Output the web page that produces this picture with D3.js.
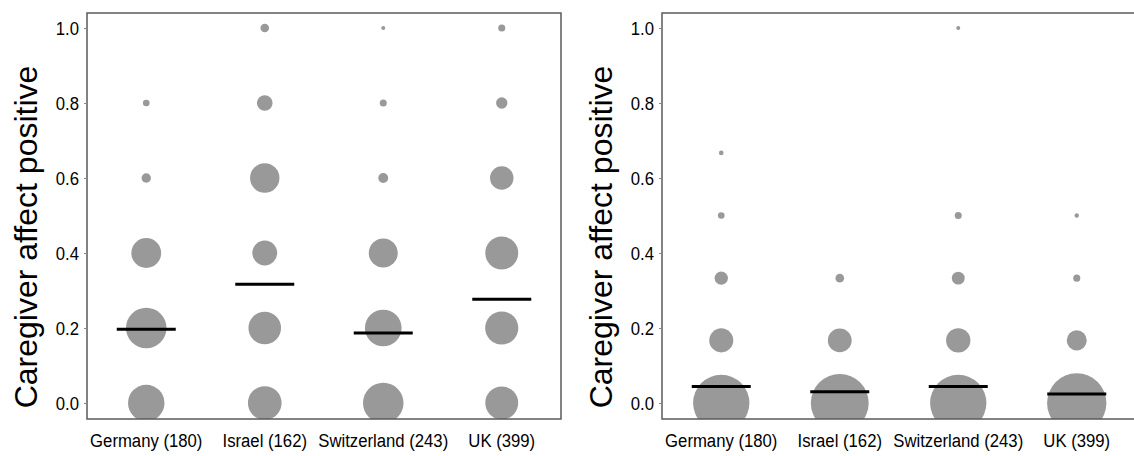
<!DOCTYPE html>
<html>
<head>
<meta charset="utf-8">
<script src="https://cdn.jsdelivr.net/npm/d3@7"></script>
<style>
  body { margin: 0; background: #fff; }
  text { font-family: "Liberation Sans", Arial, sans-serif; fill: #000; }
</style>
</head>
<body>
<div id="chart"></div>
<script>
// groups shown on both panels
const categories = ["Germany (180)", "Israel (162)", "Switzerland (243)", "UK (399)"]
const groupSizes = [180, 162, 243, 399]

// left panel: response levels and counts per level (one row per group)
const leftLevels = [0, 0.2, 0.4, 0.6, 0.8, 1.0]
const leftCounts = [
    [60, 74, 40, 4, 2, 0],
    [46, 43, 25, 35, 10, 3],
    [100, 82, 51, 6, 3, 1],
    [108, 110, 108, 55, 13, 5]
]
const leftMeans = [0.197, 0.317, 0.187, 0.277]

// right panel
const rightLevels = [0, 0.167, 0.333, 0.5, 0.667, 1.0]
const rightCounts = [
    [143, 26, 8, 2, 1, 0],
    [136, 23, 3, 0, 0, 0],
    [193, 36, 10, 3, 0, 1],
    [352, 40, 5, 2, 0, 0]
]
const rightMeans = [0.044, 0.030, 0.044, 0.024]

const yTicks = [0, 0.2, 0.4, 0.6, 0.8, 1.0]
const yTitle = "Caregiver affect positive"

// layout
const width = 1134,
    height = 456
const panelTop = 13,
    panelBottom = 419,
    panelWidth = 474
const panelLefts = [87, 662]
const squeeze = 0.88 // labels in the original are slightly condensed

const svg = d3.select("#chart")
    .append("svg")
    .attr("width", width)
    .attr("height", height)

svg.append("rect")
    .attr("width", width)
    .attr("height", height)
    .attr("fill", "#fff")

// same y scale for both panels
const y = d3.scaleLinear()
    .domain([0, 1])
    .range([403, 28])

// dot area is proportional to share of the group
const r = d3.scaleSqrt()
    .domain([0, 1])
    .range([0, 31.6])

function drawPanel(i, levels, counts, means) {
    const x0 = panelLefts[i]
    const x = d3.scalePoint()
        .domain(categories)
        .range([x0, x0 + panelWidth])
        .padding(0.5)

    const g = svg.append("g")

    g.append("clipPath")
        .attr("id", "clip" + i)
        .append("rect")
        .attr("x", x0)
        .attr("y", panelTop)
        .attr("width", panelWidth)
        .attr("height", panelBottom - panelTop)

    // flatten counts into dots
    const dots = []
    categories.forEach((c, ci) => {
        levels.forEach((lv, li) => {
            const n = counts[ci][li]
            if (n > 0) dots.push({ cat: c, level: lv, share: n / groupSizes[ci] })
        })
    })

    const plot = g.append("g").attr("clip-path", `url(#clip${i})`)

    plot.selectAll("circle")
        .data(dots)
        .join("circle")
        .attr("cx", d => x(d.cat))
        .attr("cy", d => y(d.level))
        .attr("r", d => r(d.share))
        .attr("fill", "#999999")

    plot.selectAll("line.mean")
        .data(means)
        .join("line")
        .attr("class", "mean")
        .attr("x1", (d, k) => x(categories[k]) - 29.5)
        .attr("x2", (d, k) => x(categories[k]) + 29.5)
        .attr("y1", d => y(d))
        .attr("y2", d => y(d))
        .attr("stroke", "#000")
        .attr("stroke-width", 3)

    // frame
    g.append("rect")
        .attr("x", x0)
        .attr("y", panelTop)
        .attr("width", panelWidth)
        .attr("height", panelBottom - panelTop)
        .attr("fill", "none")
        .attr("stroke", "#5a5a5a")
        .attr("stroke-width", 1.5)

    // y axis
    const yAxis = g.append("g")
        .attr("transform", `translate(${x0},0)`)
        .call(d3.axisLeft(y).tickValues(yTicks).tickFormat(d3.format(".1f")).tickSize(3).tickPadding(5))
    yAxis.select(".domain").remove()
    yAxis.selectAll(".tick line").attr("stroke", "#888")
    yAxis.selectAll(".tick text")
        .attr("font-size", 19)
        .attr("font-family", "'Liberation Sans', Arial, sans-serif")
        .attr("x", -8 / squeeze)
        .attr("transform", `scale(${squeeze},1)`)

    // category labels
    g.selectAll("text.cat")
        .data(categories)
        .join("text")
        .attr("class", "cat")
        .attr("transform", d => `translate(${x(d)},447) scale(${squeeze},1)`)
        .attr("text-anchor", "middle")
        .attr("font-size", 19)
        .text(d => d)

    // axis title
    g.append("text")
        .attr("transform", `translate(${x0 - 50},237) rotate(-90)`)
        .attr("text-anchor", "middle")
        .attr("font-size", 32)
        .text(yTitle)
}

drawPanel(0, leftLevels, leftCounts, leftMeans)
drawPanel(1, rightLevels, rightCounts, rightMeans)
</script>
</body>
</html>
